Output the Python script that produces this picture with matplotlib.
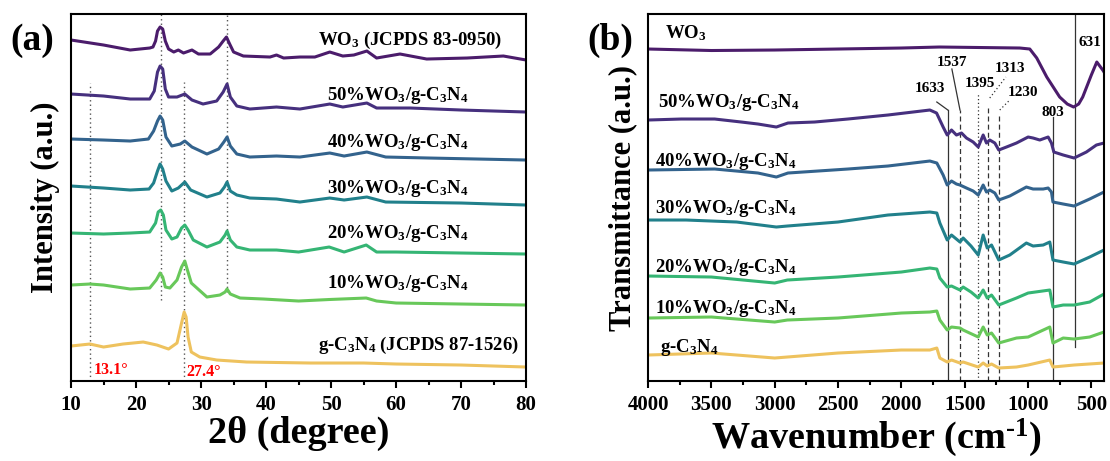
import numpy as np
import matplotlib.pyplot as plt

plt.rcParams['font.family'] = ['Liberation Serif', 'DejaVu Serif']
plt.rcParams['font.weight'] = 'bold'
plt.rcParams['mathtext.fontset'] = 'custom'
plt.rcParams['mathtext.rm'] = 'Liberation Serif:bold'
plt.rcParams['mathtext.it'] = 'Liberation Serif:bold:italic'
plt.rcParams['mathtext.bf'] = 'Liberation Serif:bold'

# ---- XRD data (2theta in degree, stacked intensity in a.u.) ----
tt_wo3 = [10, 15, 19.1, 22.1, 22.6, 23.0, 23.3, 23.7, 24.1, 24.5, 25.0, 25.8, 26.5, 27.3, 28.6, 29.6, 31.4,
          32.7, 33.4, 33.9, 34.4, 35.0, 36.5, 40.6, 41.6, 42.7, 45.2, 47.5, 49.8, 51.8, 53.5, 55.5, 57.0, 60.6,
          64.7, 70.9, 76.5, 80]
xrd_wo3 = [341, 336, 331, 333, 334, 340, 350, 354, 352, 340, 332, 329, 331, 328, 331, 327, 327,
           334, 340, 344, 337, 329, 325, 324, 326, 323, 324, 324, 329, 325, 326, 330, 323, 327,
           322, 323, 325, 321]

tt_50 = [10, 15, 19.1, 22.1, 22.8, 23.3, 23.7, 24.1, 24.5, 25.0, 26.3, 27.5, 28.6, 30.3, 32.4, 33.4, 34.0,
         34.5, 35.5, 37.5, 41.6, 45.2, 49.8, 51.8, 55.5, 57.0, 62.2, 70, 80]
xrd_50 = [287, 285, 282, 282, 290, 309, 315, 312, 292, 284, 284, 287, 281, 277, 280, 289, 297,
          284, 275, 272, 274, 272, 277, 274, 278, 273, 273, 271, 269]

tt_40 = [10, 15, 19.1, 21.9, 22.7, 23.3, 23.7, 24.1, 24.6, 25.5, 26.8, 27.5, 28.6, 30.9, 32.7, 33.5, 34.0,
         34.5, 35.5, 37.5, 41.6, 45.2, 49.8, 52, 55.5, 58.4, 65, 80]
xrd_40 = [242, 241, 240, 242, 250, 260, 265, 261, 244, 235, 237, 240, 234, 227, 232, 239, 244,
          235, 227, 224, 225, 224, 228, 225, 229, 224, 223, 221]

tt_30 = [10, 15, 19.1, 22.0, 22.7, 23.3, 23.7, 24.1, 24.6, 25.5, 26.5, 27.5, 28.4, 30.9, 32.9, 33.6, 34.0,
         34.5, 35.5, 37.5, 41.6, 45.2, 49.8, 52, 55.5, 58.4, 70, 80]
xrd_30 = [195, 193, 191, 192, 198, 210, 217, 212, 200, 190, 193, 199, 191, 184, 188, 194, 199,
          190, 186, 183, 182, 179, 183, 181, 184, 179, 178, 176]

tt_20 = [10, 15, 19.1, 22.1, 23.0, 23.4, 23.8, 24.2, 24.6, 25.5, 26.3, 27.0, 27.5, 28.0, 28.8, 30.9, 32.9,
         33.7, 34.0, 34.5, 35.5, 37.5, 41.6, 45, 49.7, 52, 55.4, 57, 60, 70, 80]
xrd_20 = [148, 147, 148, 149, 158, 169, 171, 166, 151, 142, 144, 153, 156, 151, 141, 134, 139,
          146, 150, 141, 134, 131, 131, 129, 134, 129, 136, 129, 129, 128, 127]

tt_10 = [10, 12.9, 15, 19.1, 22.1, 23.1, 23.7, 24.1, 24.5, 25.2, 26.3, 27.0, 27.5, 27.9, 28.5, 30.9, 32.9,
         33.7, 34.0, 34.5, 36.0, 39.6, 45, 49.7, 55.4, 57, 60, 70, 80]
xrd_10 = [96, 97, 96, 92, 93, 101, 108, 104, 94, 93, 101, 114, 120, 111, 98, 84, 86,
          89, 92, 87, 83, 82, 80, 81.5, 83, 80, 78, 77, 76]

tt_cn = [10, 12.9, 15, 18, 21.1, 23.2, 25.0, 26.3, 27.0, 27.4, 27.7, 28.0, 28.5, 29.8, 32.4, 37.0,
         46.8, 55, 60, 70, 80]
xrd_cn = [35, 37, 34, 37, 39, 36, 32, 38, 58, 69, 64, 44, 29, 24, 21, 19,
          18, 18, 17, 16, 14]

# ---- FTIR data (wavenumber in cm-1, stacked transmittance in a.u.) ----
wn_wo3 = [4000, 3500, 3000, 2500, 2000, 1700, 1065, 986, 931, 852, 750, 690, 640, 600, 568, 500, 457, 410, 400]
ir_wo3 = [332, 330.5, 331, 332, 333, 334, 333, 332, 323, 304, 284, 277, 274, 277, 284, 306, 319, 311, 309]

wn_50 = [4000, 3737, 3474, 3264, 3132, 2987, 2895, 2685, 2422, 2106, 1775, 1722, 1670, 1638, 1604, 1565,
         1525, 1486, 1433, 1393, 1354, 1328, 1302, 1262, 1231, 1170, 1091, 999, 960, 907, 841, 815, 796, 722,
         636, 539, 460, 400]
ir_50 = [261, 262, 262, 259, 257, 254, 258, 259, 262, 266, 271, 268, 254, 246, 251, 246,
         248, 243, 239, 234, 246, 238, 241, 238, 231, 234, 238, 244, 243, 241, 244, 238, 229, 226,
         223, 229, 236, 238]

wn_40 = [4000, 3474, 3132, 2987, 2895, 2422, 2106, 1775, 1720, 1670, 1638, 1604, 1565, 1537, 1486, 1433,
         1393, 1354, 1328, 1302, 1262, 1231, 1144, 1013, 960, 880, 841, 815, 803, 722, 636, 513, 400]
ir_40 = [211, 212, 208, 204, 208, 212, 215, 220, 218, 206, 196, 200, 197, 196, 193, 190,
         186, 196, 189, 191, 188, 181, 185, 194, 192, 192, 193, 189, 179, 177, 175, 182, 189]

wn_30 = [4000, 3700, 3300, 2987, 2900, 2500, 2106, 1775, 1720, 1696, 1638, 1604, 1537, 1512, 1450,
         1393, 1354, 1322, 1288, 1231, 1144, 1013, 960, 880, 828, 803, 722, 636, 513, 400]
ir_30 = [161, 161, 159, 154, 155, 159, 166, 169, 168, 158, 141, 146, 139, 143, 135,
         126, 146, 133, 136, 121, 126, 138, 135, 136, 139, 121, 119, 117, 124, 131]

wn_20 = [4000, 3500, 3000, 2900, 2500, 2000, 1775, 1720, 1696, 1638, 1604, 1537, 1512, 1450,
         1393, 1354, 1322, 1288, 1231, 1091, 999, 828, 803, 722, 636, 513, 400]
ir_20 = [105, 104, 98, 101, 104, 109, 113, 112, 103, 94, 95, 91, 94, 89,
         83, 91, 83, 86, 76, 83, 88, 91, 74, 76, 76, 79, 87]

wn_10 = [4000, 3500, 3000, 2900, 2500, 2000, 1775, 1720, 1696, 1638, 1604, 1537, 1512,
         1393, 1354, 1322, 1288, 1231, 1091, 999, 828, 803, 722, 636, 513, 400]
ir_10 = [63, 64, 59, 61, 63, 68, 69, 70, 61, 51, 54, 53, 51,
         44, 54, 46, 48, 38, 43, 44, 54, 38, 43, 42, 44, 49]

wn_cn = [4000, 3500, 3000, 2500, 2000, 1775, 1720, 1696, 1638, 1604, 1537, 1512,
         1393, 1354, 1322, 1288, 1231, 1091, 999, 828, 803, 636, 400]
ir_cn = [26, 28, 23, 28, 31, 31, 33, 23, 19, 21, 18, 19,
         14, 18, 15, 17, 13, 14, 16, 21, 14, 16, 18]

names = ['WO$_3$', '50%WO$_3$/g-C$_3$N$_4$', '40%WO$_3$/g-C$_3$N$_4$', '30%WO$_3$/g-C$_3$N$_4$',
         '20%WO$_3$/g-C$_3$N$_4$', '10%WO$_3$/g-C$_3$N$_4$', 'g-C$_3$N$_4$']
colors = ['#4b1c6b', '#46307e', '#33638d', '#21808b', '#35b574', '#68c85a', '#eec25e']

xrd = [(tt_wo3, xrd_wo3), (tt_50, xrd_50), (tt_40, xrd_40), (tt_30, xrd_30),
       (tt_20, xrd_20), (tt_10, xrd_10), (tt_cn, xrd_cn)]
ftir = [(wn_wo3, ir_wo3), (wn_50, ir_50), (wn_40, ir_40), (wn_30, ir_30),
        (wn_20, ir_20), (wn_10, ir_10), (wn_cn, ir_cn)]

# label placement per curve (x, y)
xrd_lab_x = [48, 49.4, 49.4, 49.4, 49.4, 49.4, 48]
xrd_lab_y = [341, 286, 239, 193, 148, 98, 36]
xrd_names = ['WO$_3$ (JCPDS 83-0950)'] + names[1:6] + ['g-C$_3$N$_4$ (JCPDS 87-1526)']
ir_lab_x = [3866, 3921, 3945, 3945, 3945, 3945, 3905]
ir_lab_y = [348, 279, 220, 173, 114, 73, 34]

# tick positions
xrd_ticks = [10, 20, 30, 40, 50, 60, 70, 80]
ir_ticks = [4000, 3500, 3000, 2500, 2000, 1500, 1000, 500]

# reference positions
xrd_refs = [12.9, 23.8, 27.4, 34.0]
xrd_ref_lo = [0, 81, 0, 89]
xrd_ref_hi = [298, 367, 299, 367]
ir_refs = [1633, 1537, 1395, 1313, 1230, 803, 631]
ir_ref_lo = [0, 0, 0, 0, 0, 0, 34]
ir_ref_hi = [271, 271, 288, 273, 268, 264, 367]
ir_ref_ls = ['-', (0, (4, 2.5)), (0, (1, 2)), (0, (4, 2.5)), (0, (4, 2.5)), '-', '-']

fig = plt.figure(figsize=(11.1, 4.61), dpi=100)
ax1 = fig.add_axes([0.064, 0.1735, 0.410, 0.7961])
ax2 = fig.add_axes([0.5838, 0.1735, 0.4108, 0.7961])

tick_font = dict(fontsize=15, fontweight='bold', family='Liberation Serif')

# --- (a) XRD ---
for x, y0, y1 in zip(xrd_refs, xrd_ref_lo, xrd_ref_hi):
    ax1.plot([x, x], [y0, y1], ls=(0, (1, 2.2)), color='#555555', lw=1.0)
for (x, y), c in zip(xrd, colors):
    ax1.plot(x, y, color=c, lw=2.2)
for lx, ly, t in zip(xrd_lab_x, xrd_lab_y, xrd_names):
    ax1.text(lx, ly, t, fontsize=13.5, fontweight='bold', va='center', ha='left')
ax1.text(13.5, 11, '13.1°', color='red', fontsize=11.5, fontweight='bold', va='center')
ax1.text(27.7, 9, '27.4°', color='red', fontsize=11.5, fontweight='bold', va='center')
ax1.set_xlim(10, 80)
ax1.set_xticks(xrd_ticks, labels=[str(t) for t in xrd_ticks], **tick_font)
ax1.set_xticks(np.arange(15, 80, 10), minor=True)
ax1.set_xlabel('2θ (degree)', fontsize=27.5, fontweight='bold', labelpad=1)
ax1.set_ylabel('Intensity (a.u.)', fontsize=22, fontweight='bold', labelpad=8)
fig.text(0.009, 0.913, '(a)', fontsize=27, fontweight='bold', va='center')

# --- (b) FTIR ---
for x, y0, y1, ls in zip(ir_refs, ir_ref_lo, ir_ref_hi, ir_ref_ls):
    ax2.plot([x, x], [y0, y1], ls=ls, color='#333333', lw=0.9)
for (x, y), c in zip(ftir, colors):
    ax2.plot(x, y, color=c, lw=2.2)
for lx, ly, t in zip(ir_lab_x, ir_lab_y, names):
    ax2.text(lx, ly, t, fontsize=13.5, fontweight='bold', va='center', ha='left')

# peak annotations with leader lines
ax2.plot([1720, 1633], [279, 271], color='#333333', lw=0.9)
ax2.plot([1601, 1537], [312, 271], color='#333333', lw=0.9)
ax2.plot([1302, 1175], [283, 304], color='#333333', lw=0.9, ls=(0, (1, 2)))
ax2.plot([1223, 1144], [271, 281], color='#333333', lw=0.9, ls=(0, (1, 2)))
pk_x = [1775, 1601, 1380, 1144, 1041, 804, 513]
pk_y = [293, 319, 298, 313, 289, 269, 339]
pk_t = ['1633', '1537', '1395', '1313', '1230', '803', '631']
for px, py, t in zip(pk_x, pk_y, pk_t):
    ax2.text(px, py, t, fontsize=11, fontweight='bold', ha='center', va='center')

ax2.set_xlim(4000, 400)
ax2.set_xticks(ir_ticks, labels=[str(t) for t in ir_ticks], **tick_font)
ax2.set_xticks(np.arange(3750, 400, -500), minor=True)
ax2.set_xlabel('Wavenumber (cm$^{\\text{-1}}$)', fontsize=27.5, fontweight='bold', labelpad=1)
ax2.set_ylabel('Transmittance (a.u.)', fontsize=22, fontweight='bold', labelpad=8)
fig.text(0.529, 0.913, '(b)', fontsize=27, fontweight='bold', va='center')

for ax in (ax1, ax2):
    for s in ax.spines.values():
        s.set_linewidth(1.5)
    ax.set_ylim(0, 367)
    ax.set_yticks([])
    ax.tick_params(axis='x', which='major', direction='out', length=5, width=1.5, pad=5)
    ax.tick_params(axis='x', which='minor', direction='out', length=3, width=1.5)

fig.savefig('out.png', dpi=100)
